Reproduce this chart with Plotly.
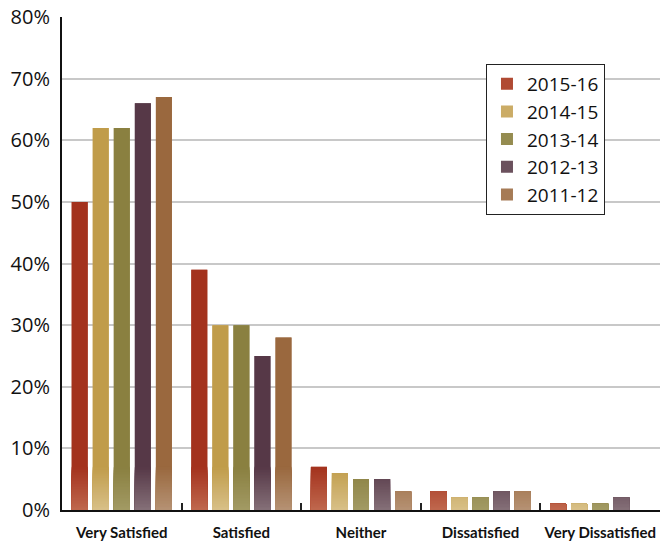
import plotly.graph_objects as go

categories = ["Very Satisfied", "Satisfied", "Neither", "Dissatisfied", "Very Dissatisfied"]
series_names = ["2015-16", "2014-15", "2013-14", "2012-13", "2011-12"]
v_2015_16 = [50, 39, 7, 3, 1]
v_2014_15 = [62, 30, 6, 2, 1]
v_2013_14 = [62, 30, 5, 2, 1]
v_2012_13 = [66, 25, 5, 3, 2]
v_2011_12 = [67, 28, 3, 3, 0]
series_values = [v_2015_16, v_2014_15, v_2013_14, v_2012_13, v_2011_12]
y_ticks = [0, 10, 20, 30, 40, 50, 60, 70, 80]

dark_colors = ["#A3321D", "#C09C4A", "#8A8040", "#563847", "#9A683E"]
light_colors = ["#C0684E", "#D8C088", "#A29A64", "#857078", "#B59274"]

GRAD_TOP = 7.0
N_BANDS = 28


def hex2rgb(h):
    h = h.lstrip("#")
    return tuple(int(h[i:i + 2], 16) for i in (0, 2, 4))


def mix(a, b, t):
    ra, rb = hex2rgb(a), hex2rgb(b)
    return "rgb(%d,%d,%d)" % tuple(round(ra[i] + (rb[i] - ra[i]) * t) for i in range(3))


fig = go.Figure()
for i, (name, vals) in enumerate(zip(series_names, series_values)):
    fig.add_trace(go.Bar(
        x=categories, y=vals, name=name, offsetgroup=str(i), legendgroup=str(i),
        marker=dict(color=mix(light_colors[i], dark_colors[i], 0.55), line=dict(width=0)),
        hoverinfo="skip",
    ))
    fig.add_trace(go.Bar(
        x=categories, y=vals, offsetgroup=str(i), legendgroup=str(i), showlegend=False,
        marker=dict(color=dark_colors[i], line=dict(width=0)), hoverinfo="skip",
    ))
    h = GRAD_TOP / N_BANDS
    for k in range(N_BANDS - 1, -1, -1):
        t = (k + 0.5) / N_BANDS
        fig.add_trace(go.Bar(
            x=categories, y=[min(v, (k + 1) * h) for v in vals],
            offsetgroup=str(i), legendgroup=str(i), showlegend=False,
            marker=dict(color=mix(light_colors[i], dark_colors[i], t), line=dict(width=0)),
            hoverinfo="skip",
        ))

fig.update_layout(
    width=668, height=544,
    margin=dict(l=62, r=8, t=17, b=34, autoexpand=False),
    paper_bgcolor="white", plot_bgcolor="white",
    barmode="group", bargap=0.12, bargroupgap=0.24,
    font=dict(family="Open Sans, Lato, sans-serif", color="#111"),
    showlegend=True,
    legend=dict(
        x=0.709, y=0.905, xanchor="left", yanchor="top",
        bordercolor="#222", borderwidth=1, bgcolor="white",
        font=dict(size=19, color="#111"), tracegroupgap=0,
        traceorder="grouped",
    ),
    xaxis=dict(
        showline=True, linecolor="#111", linewidth=2, automargin=False,
        tickson="boundaries", ticks="inside", ticklen=7, tickwidth=1.5, tickcolor="#222",
        tickangle=0,
        tickfont=dict(size=15, family="Lato, sans-serif", weight="bold", color="#111"),
        ticklabelstandoff=8, showgrid=False,
    ),
    yaxis=dict(
        range=[0, 80], tickvals=y_ticks, ticktext=[f"{t}%" for t in y_ticks],
        showline=True, linecolor="#111", linewidth=2, automargin=False,
        showgrid=True, gridcolor="#C8C8C8", gridwidth=1.5,
        tickfont=dict(size=20, color="#111"), ticks="", ticklabelstandoff=6,
        zeroline=False,
    ),
)

fig.write_html("out.html")
